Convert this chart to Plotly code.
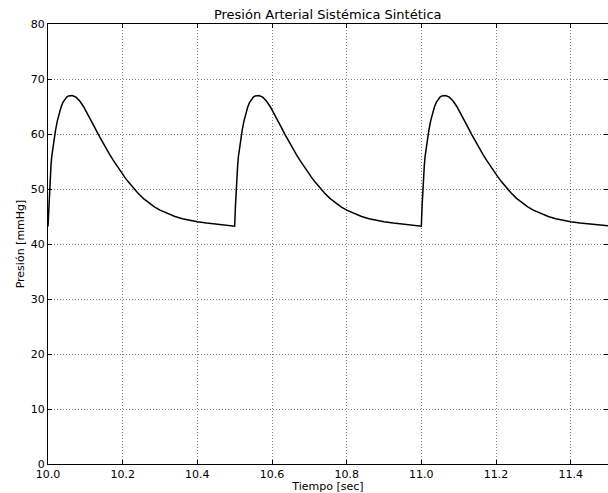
import plotly.graph_objects as go

# Synthetic systemic arterial pressure: three beats, period 0.5 s
tiempo_latido1 = [
    10.000, 10.002, 10.004, 10.006, 10.008, 10.010, 10.013, 10.016, 10.020, 10.025,
    10.030, 10.035, 10.040, 10.045, 10.050, 10.055, 10.060, 10.065, 10.075, 10.085,
    10.095, 10.105, 10.115, 10.125, 10.135, 10.145, 10.155, 10.165, 10.175, 10.185,
    10.195, 10.205, 10.215, 10.225, 10.240, 10.255, 10.270, 10.285, 10.300, 10.320,
    10.340, 10.360, 10.380, 10.400, 10.425, 10.450, 10.475, 10.500,
]
presion_latido1 = [
    43.2, 46.8, 50.0, 52.4, 54.3, 55.9, 57.6, 59.0, 60.6, 62.4,
    63.8, 64.9, 65.75, 66.35, 66.72, 66.92, 67.0, 67.0, 66.7, 66.0,
    65.0, 63.8, 62.5, 61.2, 59.9, 58.65, 57.45, 56.3, 55.2, 54.15,
    53.15, 52.2, 51.3, 50.45, 49.3, 48.3, 47.45, 46.75, 46.15, 45.5,
    45.0, 44.6, 44.3, 44.05, 43.8, 43.6, 43.42, 43.25,
]

tiempo_latido2 = [
    10.502, 10.504, 10.506, 10.508, 10.510, 10.513, 10.516, 10.520, 10.525,
    10.530, 10.535, 10.540, 10.545, 10.550, 10.555, 10.560, 10.565, 10.575, 10.585,
    10.595, 10.605, 10.615, 10.625, 10.635, 10.645, 10.655, 10.665, 10.675, 10.685,
    10.695, 10.705, 10.715, 10.725, 10.740, 10.755, 10.770, 10.785, 10.800, 10.820,
    10.840, 10.860, 10.880, 10.900, 10.925, 10.950, 10.975, 11.000,
]
presion_latido2 = [
    46.8, 50.0, 52.4, 54.3, 55.9, 57.6, 59.0, 60.6, 62.4,
    63.8, 64.9, 65.75, 66.35, 66.72, 66.92, 67.0, 67.0, 66.7, 66.0,
    65.0, 63.8, 62.5, 61.2, 59.9, 58.65, 57.45, 56.3, 55.2, 54.15,
    53.15, 52.2, 51.3, 50.45, 49.3, 48.3, 47.45, 46.75, 46.15, 45.5,
    45.0, 44.6, 44.3, 44.05, 43.8, 43.6, 43.42, 43.25,
]

tiempo_latido3 = [
    11.002, 11.004, 11.006, 11.008, 11.010, 11.013, 11.016, 11.020, 11.025,
    11.030, 11.035, 11.040, 11.045, 11.050, 11.055, 11.060, 11.065, 11.075, 11.085,
    11.095, 11.105, 11.115, 11.125, 11.135, 11.145, 11.155, 11.165, 11.175, 11.185,
    11.195, 11.205, 11.215, 11.225, 11.240, 11.255, 11.270, 11.285, 11.300, 11.320,
    11.340, 11.360, 11.380, 11.400, 11.425, 11.450, 11.475, 11.500,
]
presion_latido3 = [
    46.8, 50.0, 52.4, 54.3, 55.9, 57.6, 59.0, 60.6, 62.4,
    63.8, 64.9, 65.75, 66.35, 66.72, 66.92, 67.0, 67.0, 66.7, 66.0,
    65.0, 63.8, 62.5, 61.2, 59.9, 58.65, 57.45, 56.3, 55.2, 54.15,
    53.15, 52.2, 51.3, 50.45, 49.3, 48.3, 47.45, 46.75, 46.15, 45.5,
    45.0, 44.6, 44.3, 44.05, 43.8, 43.6, 43.42, 43.3,
]

tiempo = tiempo_latido1 + tiempo_latido2 + tiempo_latido3
presion = presion_latido1 + presion_latido2 + presion_latido3

x_ticks = [10.0, 10.2, 10.4, 10.6, 10.8, 11.0, 11.2, 11.4]
x_ticklabels = ["10.0", "10.2", "10.4", "10.6", "10.8", "11.0", "11.2", "11.4"]
y_ticks = [0, 10, 20, 30, 40, 50, 60, 70, 80]

FONT = "DejaVu Sans"

fig = go.Figure()
fig.add_trace(go.Scatter(
    x=tiempo, y=presion, mode="lines",
    line=dict(color="black", width=1.5),
    showlegend=False,
))

axis_common = dict(
    showline=True, linecolor="black", linewidth=1, mirror="allticks",
    ticks="inside", ticklen=4, tickcolor="black",
    showgrid=True, gridcolor="rgba(0,0,0,0.5)", griddash="1px,2px", gridwidth=1,
    zeroline=False,
    tickfont=dict(family=FONT, size=11, color="black"),
)

fig.update_layout(
    width=608, height=493,
    margin=dict(l=48, r=0, t=24, b=29),
    paper_bgcolor="white", plot_bgcolor="white",
    font=dict(family=FONT, color="black"),
    title=dict(
        text="Presión Arterial Sistémica Sintética",
        x=0.539, xanchor="center", y=0.971, yanchor="middle",
        font=dict(family=FONT, size=13, color="black"),
    ),
    xaxis=dict(
        range=[10.0, 11.5], tickvals=x_ticks, ticktext=x_ticklabels,
        title=dict(text="Tiempo [sec]", font=dict(family=FONT, size=11), standoff=1),
        **axis_common,
    ),
    yaxis=dict(
        range=[0, 80], tickvals=y_ticks,
        title=dict(text="Presión [mmHg]", font=dict(family=FONT, size=11), standoff=3),
        **axis_common,
    ),
)

fig.write_html("out.html")
